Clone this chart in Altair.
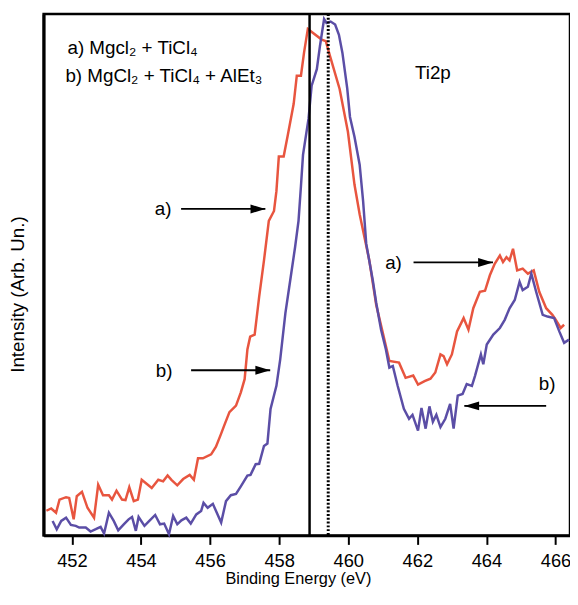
import altair as alt
import pandas as pd

# ---- data ----
red_energy = [451.26, 451.40, 451.54, 451.64, 451.83, 451.92, 452.05, 452.14, 452.29, 452.45,
              452.64, 452.76, 452.90, 453.07, 453.16, 453.29, 453.45, 453.55, 453.66, 453.79,
              453.91, 454.02, 454.17, 454.31, 454.50, 454.64, 454.77, 454.88, 455.05, 455.22,
              455.41, 455.53, 455.65, 455.79, 456.03, 456.17, 456.32, 456.41, 456.56, 456.75,
              456.89, 457.00, 457.08, 457.16, 457.29, 457.42, 457.56, 457.70, 457.85, 457.92,
              457.99, 458.13, 458.25, 458.42, 458.51, 458.63, 458.72, 458.83, 459.23, 459.35,
              459.47, 459.75, 459.99, 460.18, 460.33, 460.61, 460.81, 461.00, 461.19, 461.47,
              461.66, 461.88, 462.02, 462.21, 462.38, 462.52, 462.67, 462.76, 462.86, 463.00,
              463.15, 463.34, 463.48, 463.62, 463.81, 463.96, 464.10, 464.24, 464.39, 464.48,
              464.58, 464.67, 464.77, 464.89, 465.05, 465.20, 465.37, 465.53, 465.73, 465.91,
              466.01, 466.15, 466.25]
red_intensity = [4.75, 5.19, 4.37, 6.90, 7.36, 7.22, 3.10, 7.55, 8.37, 5.32,
                 3.42, 9.75, 7.74, 7.74, 6.90, 8.61, 6.90, 6.79, 9.26, 6.60,
                 6.90, 10.70, 9.89, 9.13, 10.70, 10.40, 11.54, 10.70, 9.64, 10.84,
                 11.65, 10.70, 14.83, 14.83, 15.59, 17.05, 19.58, 21.16, 23.71, 24.96,
                 27.51, 30.04, 35.74, 38.21, 38.59, 45.87, 52.85, 60.46, 62.36, 66.16,
                 72.81, 72.81, 76.94, 82.95, 88.35, 88.35, 92.78, 97.34, 95.30, 95.00,
                 92.15, 85.80, 77.57, 67.43, 61.73, 52.85, 44.30, 38.97, 33.52, 33.21,
                 30.29, 30.74, 28.99, 29.66, 30.13, 31.31, 34.79, 34.47, 32.89, 34.79,
                 39.22, 41.77, 39.54, 43.67, 46.83, 47.02, 50.00, 52.22, 53.80, 52.53,
                 53.48, 52.85, 55.08, 50.95, 51.27, 50.32, 50.95, 46.83, 43.67, 42.40,
                 41.44, 39.87, 40.49]

blue_energy = [451.44, 451.56, 451.69, 451.83, 451.97, 452.11, 452.21, 452.40, 452.54, 452.69,
               452.83, 452.93, 453.07, 453.21, 453.34, 453.50, 453.64, 453.74, 453.85, 453.93,
               454.10, 454.24, 454.41, 454.55, 454.67, 454.81, 454.93, 455.05, 455.17, 455.31,
               455.44, 455.60, 455.74, 455.81, 455.93, 456.08, 456.32, 456.46, 456.60, 456.75,
               456.89, 457.08, 457.17, 457.32, 457.42, 457.56, 457.66, 457.75, 457.92, 458.03,
               458.18, 458.32, 458.46, 458.56, 458.63, 458.69, 458.85, 458.94, 459.09, 459.18,
               459.30, 459.37, 459.49, 459.62, 459.73, 459.83, 459.97, 460.05, 460.18, 460.33,
               460.43, 460.52, 460.71, 460.81, 460.95, 461.09, 461.19, 461.29, 461.43, 461.61,
               461.76, 461.86, 462.02, 462.12, 462.24, 462.35, 462.45, 462.55, 462.67, 462.81,
               462.95, 463.05, 463.17, 463.31, 463.43, 463.58, 463.67, 463.84, 463.91, 464.01,
               464.20, 464.39, 464.53, 464.67, 464.82, 464.96, 465.05, 465.20, 465.30, 465.44,
               465.63, 465.77, 465.96, 466.11, 466.25, 466.39]
blue_intensity = [2.79, 1.20, 2.79, 3.42, 2.03, 1.84, 1.52, 1.52, 0.76, 1.20,
                  1.65, 0.38, 4.37, 2.79, 1.01, 2.15, 3.10, 3.56, 0.89, 3.56,
                  1.84, 2.79, 3.94, 2.15, 2.28, 0.25, 3.75, 2.15, 2.91, 3.42,
                  2.28, 4.05, 4.70, 6.27, 5.32, 6.08, 2.47, 6.60, 7.74, 7.98,
                  9.45, 11.50, 11.65, 13.69, 13.78, 17.21, 17.68, 24.33, 28.76, 33.84,
                  42.72, 49.05, 55.38, 60.46, 67.11, 73.14, 80.10, 86.44, 89.60, 94.05,
                  99.24, 98.48, 98.76, 98.19, 96.20, 92.78, 85.93, 80.42, 76.62, 71.24,
                  64.26, 56.08, 49.05, 44.68, 39.54, 35.74, 32.26, 32.57, 28.76, 24.33,
                  22.43, 23.19, 20.15, 24.52, 20.53, 24.81, 21.86, 23.19, 20.82, 22.43,
                  25.29, 20.53, 26.86, 27.19, 29.09, 28.76, 30.67, 34.79, 32.89, 36.69,
                  38.59, 39.87, 41.44, 43.67, 45.25, 48.73, 47.15, 47.78, 50.32, 46.83,
                  42.40, 42.07, 41.77, 39.22, 37.02, 37.64]

x_ticks = [452, 454, 456, 458, 460, 462, 464, 466]
ref_lines_solid = [458.88]
ref_lines_dotted = [459.42]

# arrows: label, label position, tail energy, head energy, intensity
arrow_labels = ["a)", "b)", "a)", "b)"]
label_energy = [454.64, 454.67, 461.31, 465.76]
label_intensity = [62.74, 31.56, 52.28, 29.09]
arrow_tail = [455.16, 455.45, 461.89, 465.73]
arrow_head = [457.60, 457.74, 464.19, 463.36]
arrow_intensity = [62.74, 31.75, 52.47, 24.90]
arrow_dir = ["right", "right", "right", "left"]

legend_lines = ["a) Mgcl\u2082 + TiCl\u2084", "b) MgCl\u2082 + TiCl\u2084 + AlEt\u2083"]
legend_energy = [451.87, 451.81]
legend_intensity = [93.73, 88.21]

RED = "#E8553F"
BLUE = "#5B4EA6"
FONT = "Liberation Sans"

red_df = pd.DataFrame({"E": red_energy, "I": red_intensity, "o": range(len(red_energy))})
blue_df = pd.DataFrame({"E": blue_energy, "I": blue_intensity, "o": range(len(blue_energy))})
arrow_df = pd.DataFrame({"E": arrow_tail, "E2": arrow_head, "I": arrow_intensity, "dir": arrow_dir})
lab_df = pd.DataFrame({"E": label_energy, "I": label_intensity, "t": arrow_labels})
leg_df = pd.DataFrame({"E": legend_energy, "I": legend_intensity, "t": legend_lines})
solid_df = pd.DataFrame({"E": ref_lines_solid})
dot_df = pd.DataFrame({"E": ref_lines_dotted})

xscale = alt.Scale(domain=[451.18, 466.42], nice=False, zero=False)
yscale = alt.Scale(domain=[0, 100.2], nice=False, zero=False)

xaxis = alt.Axis(values=x_ticks, format="d", title="Binding Energy (eV)", grid=False,
                 labelFontSize=18.5, labelFont=FONT, labelColor="black", labelPadding=7,
                 tickSize=9, tickWidth=2, tickColor="black",
                 domainColor="black", domainWidth=2.5,
                 titleFont=FONT, titleFontSize=16.5, titleFontWeight="normal", titleColor="black",
                 titleX=257, titleY=44, titleBaseline="middle", titleAlign="center")
yaxis = alt.Axis(labels=False, ticks=False, grid=False, title="Intensity (Arb. Un.)",
                 domainColor="black", domainWidth=3,
                 titleFont=FONT, titleFontSize=19, titleFontWeight="normal", titleColor="black",
                 titleX=-26, titleY=283, titleAngle=270, titleBaseline="middle", titleAlign="center")

X = alt.X("E:Q", scale=xscale, axis=xaxis)
Y = alt.Y("I:Q", scale=yscale, axis=yaxis)

red_line = alt.Chart(red_df).mark_line(color=RED, strokeWidth=2.5).encode(x=X, y=Y, order="o:Q")
blue_line = alt.Chart(blue_df).mark_line(color=BLUE, strokeWidth=2.5).encode(x=X, y=Y, order="o:Q")

solid = alt.Chart(solid_df).mark_rule(color="black", strokeWidth=2.5).encode(x=alt.X("E:Q", scale=xscale))
dotted = alt.Chart(dot_df).mark_rule(color="black", strokeWidth=3, strokeDash=[2, 1.8]).encode(
    x=alt.X("E:Q", scale=xscale))

arrow_lines = alt.Chart(arrow_df).mark_rule(color="black", strokeWidth=1.8).encode(
    x=alt.X("E:Q", scale=xscale), x2="E2:Q", y=alt.Y("I:Q", scale=yscale))
heads_r = alt.Chart(arrow_df).transform_filter(alt.datum.dir == "right").mark_point(
    shape="M 0 0 L -2 -0.6 L -2 0.6 Z", size=225, filled=True, color="black", opacity=1, strokeWidth=0
).encode(x=alt.X("E2:Q", scale=xscale), y=alt.Y("I:Q", scale=yscale))
heads_l = alt.Chart(arrow_df).transform_filter(alt.datum.dir == "left").mark_point(
    shape="M 0 0 L 2 -0.6 L 2 0.6 Z", size=225, filled=True, color="black", opacity=1, strokeWidth=0
).encode(x=alt.X("E2:Q", scale=xscale), y=alt.Y("I:Q", scale=yscale))

labels = alt.Chart(lab_df).mark_text(font=FONT, fontSize=19, color="black", align="center",
                                     baseline="middle").encode(
    x=alt.X("E:Q", scale=xscale), y=alt.Y("I:Q", scale=yscale), text="t:N")

legend = alt.Chart(leg_df).mark_text(font=FONT, fontSize=19, color="black", align="left",
                                     baseline="middle").encode(
    x=alt.X("E:Q", scale=xscale), y=alt.Y("I:Q", scale=yscale), text="t:N")

ti2p = alt.Chart(pd.DataFrame({"E": [462.45], "I": [88.78], "t": ["Ti2p"]})).mark_text(
    font=FONT, fontSize=19, color="black", align="center", baseline="middle").encode(
    x=alt.X("E:Q", scale=xscale), y=alt.Y("I:Q", scale=yscale), text="t:N")

chart = alt.layer(red_line, blue_line, solid, dotted, arrow_lines, heads_r, heads_l,
                  labels, legend, ti2p).properties(
    width=532, height=527,
    autosize=alt.AutoSizeParams(type="none"),
    padding={"left": 36, "top": 3, "right": 0, "bottom": 52},
    background="white",
).configure_view(stroke="black", strokeWidth=2.5)

chart.save("out.html", embed_options={"renderer": "svg", "actions": False})
